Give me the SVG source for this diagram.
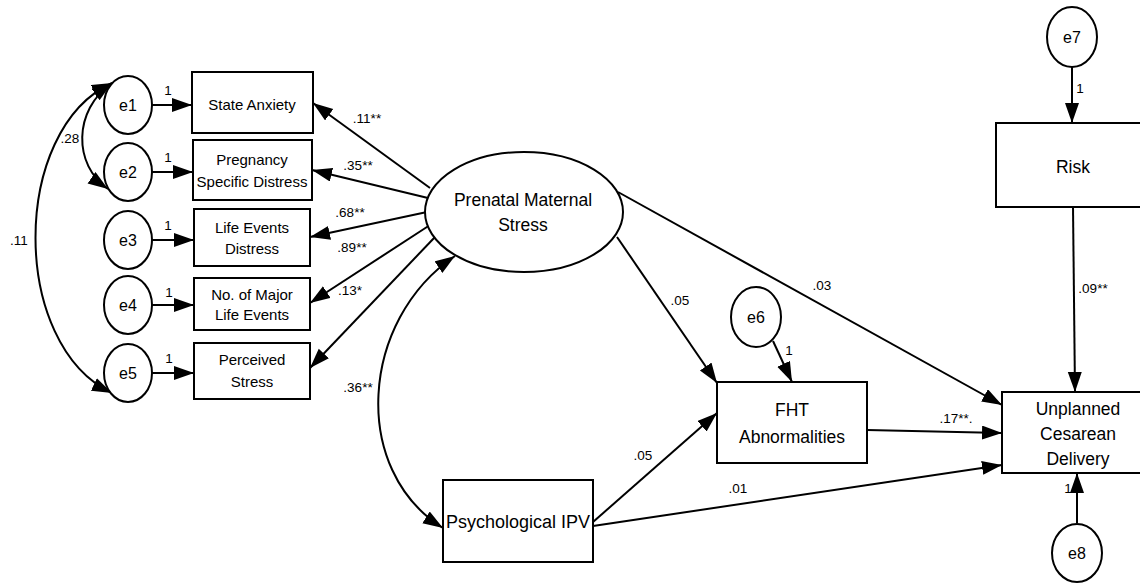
<svg xmlns="http://www.w3.org/2000/svg" width="1140" height="583" viewBox="0 0 1140 583">
<style>
.n{fill:#fff;stroke:#000;stroke-width:2}
.t{font-family:"Liberation Sans",Arial,sans-serif;fill:#000;text-anchor:middle}
.s15{font-size:15px}
.s16{font-size:16px}
.s17{font-size:17.5px}
.s18{font-size:18px}
.lb{font-family:"Liberation Sans",Arial,sans-serif;font-size:13.5px;fill:#000;text-anchor:middle}
.c{fill:none;stroke:#000;stroke-width:2}
.a{marker-end:url(#ah)}
.d{marker-end:url(#ah);marker-start:url(#ahs)}
</style>
<defs>
<marker id="ah" markerUnits="userSpaceOnUse" markerWidth="22" markerHeight="16" refX="20" refY="7" orient="auto"><path d="M0,0 L20,7 L0,14 z" fill="#000"/></marker>
<marker id="ahs" markerUnits="userSpaceOnUse" markerWidth="22" markerHeight="16" refX="20" refY="7" orient="auto-start-reverse"><path d="M0,0 L20,7 L0,14 z" fill="#000"/></marker>
</defs>
<rect width="1140" height="583" fill="#fff"/>
<g id="connectors">
<line class="c a" x1="152" y1="105" x2="192" y2="105"/>
<line class="c a" x1="152" y1="172" x2="193" y2="172"/>
<line class="c a" x1="152" y1="240" x2="194" y2="240"/>
<line class="c a" x1="152" y1="305" x2="194" y2="305"/>
<line class="c a" x1="152" y1="373" x2="194" y2="373"/>
<line class="c a" x1="430" y1="188" x2="313" y2="103"/>
<line class="c a" x1="428" y1="198" x2="312" y2="170"/>
<line class="c a" x1="427" y1="212" x2="310" y2="237"/>
<line class="c a" x1="430" y1="225" x2="310" y2="303"/>
<line class="c a" x1="435" y1="237" x2="310" y2="368"/>
<path class="c d" d="M112 83 C10 130 10 345 112 393"/>
<path class="c d" d="M112 83 C73 110 73 165 108 189"/>
<path class="c d" d="M455 256 C360 320 350 470 443 528"/>
<line class="c a" x1="617" y1="237" x2="717" y2="383"/>
<line class="c a" x1="618" y1="192" x2="1002" y2="405"/>
<line class="c a" x1="593" y1="522" x2="717" y2="413"/>
<line class="c a" x1="593" y1="526" x2="1002" y2="465"/>
<line class="c a" x1="867" y1="430" x2="1002" y2="433"/>
<line class="c a" x1="773" y1="341" x2="792" y2="382"/>
<line class="c a" x1="1072" y1="67" x2="1072" y2="123"/>
<line class="c a" x1="1073" y1="207" x2="1075" y2="392"/>
<line class="c a" x1="1077" y1="523" x2="1077" y2="473"/>
<text class="lb" x="168" y="95">1</text>
<text class="lb" x="168" y="162">1</text>
<text class="lb" x="168" y="230">1</text>
<text class="lb" x="169" y="297">1</text>
<text class="lb" x="169" y="363">1</text>
<text class="lb" x="70" y="143">.28</text>
<text class="lb" x="19" y="245">.11</text>
<text class="lb" x="367" y="123">.11**</text>
<text class="lb" x="358" y="170">.35**</text>
<text class="lb" x="350" y="217">.68**</text>
<text class="lb" x="352" y="252">.89**</text>
<text class="lb" x="350" y="295">.13*</text>
<text class="lb" x="358" y="392">.36**</text>
<text class="lb" x="680" y="305">.05</text>
<text class="lb" x="643" y="460">.05</text>
<text class="lb" x="822" y="290">.03</text>
<text class="lb" x="738" y="493">.01</text>
<text class="lb" x="956" y="423">.17**.</text>
<text class="lb" x="789" y="355">1</text>
<text class="lb" x="1080" y="93">1</text>
<text class="lb" x="1093" y="293">.09**</text>
<text class="lb" x="1068" y="493">1</text>
</g>
<g id="e1"><ellipse class="n" cx="128" cy="105" rx="24" ry="29"/><text class="t s16" x="128" y="111">e1</text></g>
<g id="e2"><ellipse class="n" cx="128" cy="172" rx="24" ry="29"/><text class="t s16" x="128" y="178">e2</text></g>
<g id="e3"><ellipse class="n" cx="128" cy="240" rx="24" ry="29"/><text class="t s16" x="128" y="246">e3</text></g>
<g id="e4"><ellipse class="n" cx="128" cy="305" rx="24" ry="29"/><text class="t s16" x="128" y="311">e4</text></g>
<g id="e5"><ellipse class="n" cx="128" cy="373" rx="24" ry="29"/><text class="t s16" x="128" y="379">e5</text></g>
<g id="state-anxiety"><rect class="n" x="192" y="72" width="121" height="61"/><text class="t s15" x="252" y="110">State Anxiety</text></g>
<g id="pregnancy"><rect class="n" x="193" y="140" width="119" height="60"/><text class="t s15" x="252" y="165">Pregnancy</text><text class="t s15" x="252" y="187">Specific Distress</text></g>
<g id="life-events"><rect class="n" x="194" y="209" width="116" height="57"/><text class="t s15" x="252" y="233">Life Events</text><text class="t s15" x="252" y="254">Distress</text></g>
<g id="major-events"><rect class="n" x="194" y="278" width="116" height="52"/><text class="t s15" x="252" y="300">No. of Major</text><text class="t s15" x="252" y="320">Life Events</text></g>
<g id="perceived"><rect class="n" x="194" y="343" width="116" height="56"/><text class="t s15" x="252" y="365">Perceived</text><text class="t s15" x="252" y="387">Stress</text></g>
<g id="pms"><ellipse class="n" cx="524" cy="212" rx="99" ry="60"/><text class="t s17" x="523" y="206">Prenatal Maternal</text><text class="t s17" x="523" y="231">Stress</text></g>
<g id="ipv"><rect class="n" x="443" y="480" width="150" height="82"/><text class="t s18" x="518" y="528">Psychological IPV</text></g>
<g id="e6"><ellipse class="n" cx="756" cy="317" rx="25" ry="30"/><text class="t s16" x="756" y="323">e6</text></g>
<g id="fht"><rect class="n" x="717" y="382" width="150" height="81"/><text class="t s17" x="792" y="416">FHT</text><text class="t s17" x="792" y="443">Abnormalities</text></g>
<g id="e7"><ellipse class="n" cx="1072" cy="37" rx="25" ry="30"/><text class="t s16" x="1072" y="43">e7</text></g>
<g id="risk"><rect class="n" x="996" y="123" width="150" height="84"/><text class="t s17" x="1073" y="173">Risk</text></g>
<g id="unplanned"><rect class="n" x="1002" y="392" width="150" height="81"/><text class="t s17" x="1078" y="415">Unplanned</text><text class="t s17" x="1078" y="440">Cesarean</text><text class="t s17" x="1078" y="465">Delivery</text></g>
<g id="e8"><ellipse class="n" cx="1077" cy="553" rx="25" ry="29"/><text class="t s16" x="1077" y="559">e8</text></g>
</svg>
